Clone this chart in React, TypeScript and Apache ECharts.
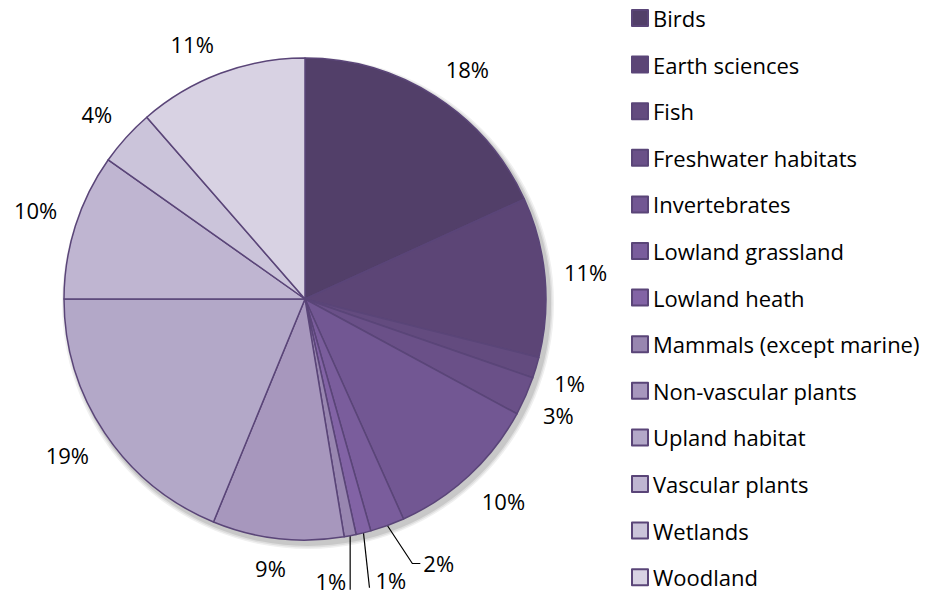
import React, { useEffect, useRef } from "react";
import * as echarts from "echarts";

const categories = [
  "Birds",
  "Earth sciences",
  "Fish",
  "Freshwater habitats",
  "Invertebrates",
  "Lowland grassland",
  "Lowland heath",
  "Mammals (except marine)",
  "Non-vascular plants",
  "Upland habitat",
  "Vascular plants",
  "Wetlands",
  "Woodland",
];

const shares = [18.2, 10.7, 1.4, 2.6, 10.4, 2.3, 1.0, 0.8, 8.8, 18.8, 9.8, 3.8, 11.4];

const colors = [
  "#523f69",
  "#5c4576",
  "#634b7f",
  "#6a5088",
  "#725793",
  "#7a5d9c",
  "#8263a5",
  "#9886b0",
  "#a797bd",
  "#b3a8c8",
  "#bfb5d1",
  "#cbc4da",
  "#d8d2e3",
];

const CX = 305;
const CY = 299;
const R = 241;
const FONT = "'Open Sans', Lato, sans-serif";

export default function App() {
  const ref = useRef<HTMLDivElement>(null);
  useEffect(() => {
    if (!ref.current) return;
    const chart = echarts.init(ref.current, undefined, { renderer: "svg" });
    const total = shares.reduce((a, b) => a + b, 0);
    const mids: number[] = [];
    let acc = 0;
    shares.forEach((v) => {
      mids.push(((acc + v / 2) / total) * Math.PI * 2);
      acc += v;
    });
    const leader = new Set([5, 6, 7]);
    const shadowRings = [
      { r: R + 5, c: "#f0f0f0" },
      { r: R + 3.5, c: "#dedede" },
      { r: R + 2, c: "#c8c8c8" },
    ];

    const shadowSeries = shadowRings.map((s, k) => ({
      type: "pie",
      name: "shadow" + k,
      silent: true,
      z: 1,
      center: [CX + 3, CY + 4],
      radius: [0, s.r],
      startAngle: 90,
      label: { show: false },
      labelLine: { show: false },
      itemStyle: { color: s.c, borderWidth: 0 },
      data: [
        { value: 1, name: "s" + k + "a" },
        { value: 1, name: "s" + k + "b" },
      ],
    }));

    chart.setOption({
      animation: false,
      backgroundColor: "#ffffff",
      legend: {
        orient: "vertical",
        left: 626,
        top: 1,
        height: 594,
        itemWidth: 16,
        itemHeight: 16,
        itemGap: 22.6,
        icon: "rect",
        data: categories,
        selectedMode: false,
        textStyle: { fontFamily: FONT, fontSize: 22, color: "#000", lineHeight: 24 },
      },
      series: [
        ...shadowSeries,
        {
          type: "pie",
          z: 3,
          center: [CX, CY],
          radius: R,
          startAngle: 90,
          clockwise: true,
          avoidLabelOverlap: false,
          itemStyle: { borderColor: "#5a4578", borderWidth: 1.5 },
          label: {
            show: true,
            position: "outside",
            fontFamily: FONT,
            fontSize: 22,
            color: "#000",
            formatter: (p: any) => `${Math.round((p.value / total) * 100)}%`,
          },
          labelLine: { show: false, length: 10, length2: 0, lineStyle: { color: "#000", width: 1.2 } },
          labelLayout: (params: any) => {
            const i = params.dataIndex;
            const a = mids[i];
            const dx = Math.sin(a);
            const dy = -Math.cos(a);
            const ex = CX + dx * R;
            const ey = CY + dy * R;
            if (leader.has(i)) {
              if (i === 5) {
                const p1 = [ex + 25, ey + 38];
                const p2 = [p1[0] + 8, p1[1]];
                return {
                  x: p2[0] + 3,
                  y: p2[1],
                  align: "left",
                  verticalAlign: "middle",
                  labelLinePoints: [[ex, ey], p1, p2],
                };
              }
              if (i === 6) {
                return {
                  x: ex + 12,
                  y: ey + 47,
                  align: "left",
                  verticalAlign: "middle",
                  labelLinePoints: [[ex, ey], [ex + 6, ey + 55], [ex + 6, ey + 55]],
                };
              }
              return {
                x: ex - 4,
                y: ey + 45,
                align: "right",
                verticalAlign: "middle",
                labelLinePoints: [[ex, ey], [ex, ey + 54], [ex, ey + 54]],
              };
            }
            const w = params.labelRect.width;
            const h = params.labelRect.height;
            const gap = 19;
            const px = CX + dx * (R + gap);
            const py = CY + dy * (R + gap);
            const sx = Math.max(-1, Math.min(1, 3 * dx));
            const sy = Math.max(-1, Math.min(1, 3 * dy));
            return {
              x: px + (sx * w) / 2,
              y: py + (sy * h) / 2,
              align: "center",
              verticalAlign: "middle",
            };
          },
          data: categories.map((name, i) => ({
            name,
            value: shares[i],
            itemStyle: { color: colors[i] },
            labelLine: leader.has(i) ? { show: true } : { show: false },
          })),
        },
      ],
    });
    return () => chart.dispose();
  }, []);
  return (
    <div
      ref={ref}
      style={{ position: "fixed", left: 0, top: 0, width: 928, height: 595 }}
    />
  );
}
